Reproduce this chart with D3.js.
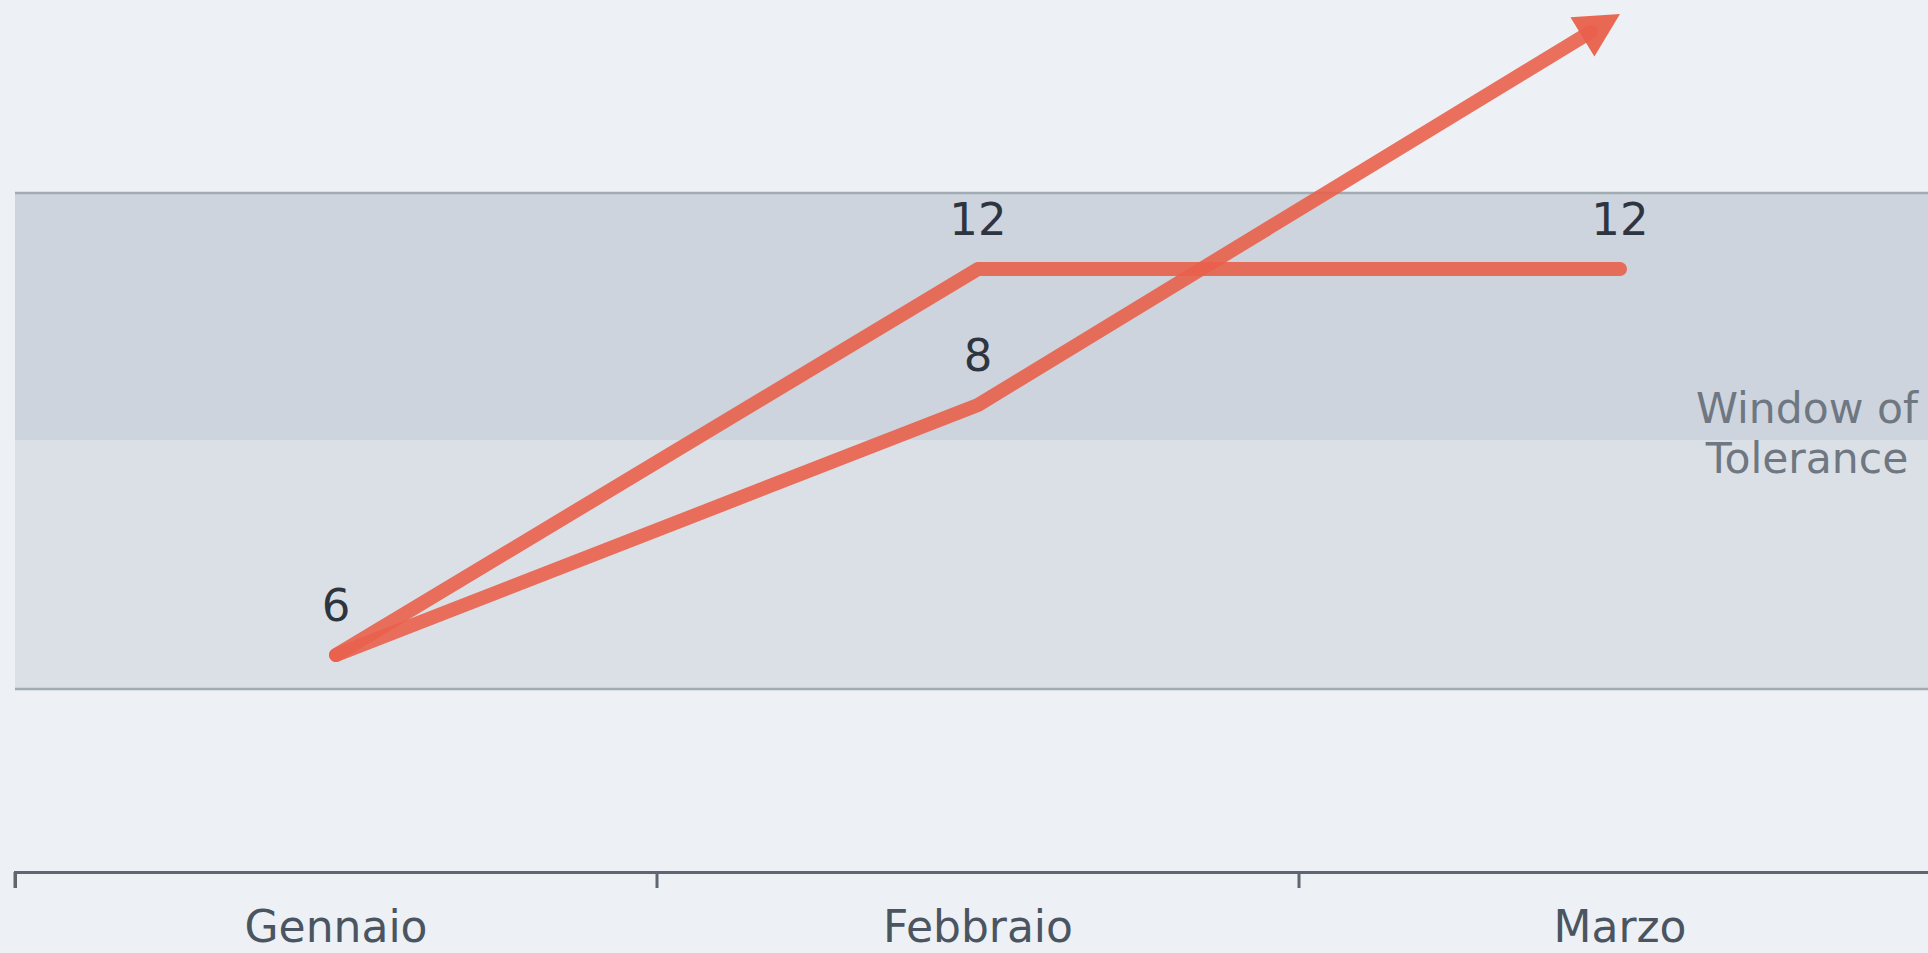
<!DOCTYPE html>
<html>
<head>
<meta charset="utf-8">
<script src="https://cdn.jsdelivr.net/npm/d3@7"></script>
<style>
  body { margin: 0; background: #edf1f5; }
  svg { display: block; }
  text { font-family: "DejaVu Sans", sans-serif; }
</style>
</head>
<body>
<script>
// Data
var months = ["Gennaio", "Febbraio", "Marzo"];
var steadyValues = [6, 12, 12];        // line that levels off
var risingValues = [6, 8, 16];         // line that ends in the arrow (last point off the labelled range)
var steadyLabels = ["6", "12", "12"];
var risingLabels = [null, "8", null];
var bandTitle = ["Window of", "Tolerance"];

// Set up svg
var svgWidth = 1928;
var svgHeight = 953;

var svg = d3.select("body")
  .append("svg")
  .attr("width", svgWidth)
  .attr("height", svgHeight);

var axisY = 872;
var bandTop = 193;
var bandMid = 440;
var bandBottom = 689;
var lineColor = "#e9604b";

// Scales
var xScale = d3.scaleBand()
  .domain(months)
  .range([15, 15 + 3 * 642]);

var xMid = function(d) { return xScale(d) + xScale.bandwidth() / 2; };

// the picture is not drawn to a linear value scale, so the y scale is piecewise
var yScale = d3.scaleLinear()
  .domain([6, 8, 12, 16])
  .range([655, 405, 269, 14]);

// Window of tolerance band
svg.append("rect")
  .attr("x", 15).attr("y", bandTop)
  .attr("width", svgWidth).attr("height", bandMid - bandTop)
  .attr("fill", "#cdd4dd");

svg.append("rect")
  .attr("x", 15).attr("y", bandMid)
  .attr("width", svgWidth).attr("height", bandBottom - bandMid)
  .attr("fill", "#dbe0e7");

[bandTop, bandBottom].forEach(function(y) {
  svg.append("line")
    .attr("x1", 15).attr("x2", svgWidth)
    .attr("y1", y).attr("y2", y)
    .attr("stroke", "#a2aab4")
    .attr("stroke-width", 2.5);
});

svg.append("text")
  .attr("x", 1807)
  .attr("y", 423)
  .attr("text-anchor", "middle")
  .style("font-size", "42.5px")
  .attr("fill", "#6e7782")
  .selectAll("tspan")
  .data(bandTitle)
  .enter()
  .append("tspan")
    .attr("x", 1807)
    .attr("dy", function(d, i) { return i === 0 ? 0 : 50; })
    .text(function(d) { return d; });

// X axis
var bottomAxis = d3.axisBottom(xScale)
  .tickSizeInner(0)
  .tickSizeOuter(16)
  .tickPadding(0);

var axisG = svg.append("g")
  .attr("transform", "translate(0," + axisY + ")")
  .call(bottomAxis);

axisG.select(".domain")
  .attr("stroke", "#5d6671")
  .attr("stroke-width", 3);

axisG.selectAll(".tick text")
  .attr("y", 70)
  .attr("dy", 0)
  .style("font-size", "44px")
  .style("font-family", "'DejaVu Sans', sans-serif")
  .attr("fill", "#4b5561");

// tick marks sit on the band boundaries
svg.selectAll(".bound-tick")
  .data(months)
  .enter()
  .append("line")
  .attr("class", "bound-tick")
  .attr("x1", function(d) { return xScale(d); })
  .attr("x2", function(d) { return xScale(d); })
  .attr("y1", axisY)
  .attr("y2", axisY + 16)
  .attr("stroke", "#5d6671")
  .attr("stroke-width", 3);

// Lines
var line = d3.line()
  .x(function(d) { return xMid(d.month); })
  .y(function(d) { return yScale(d.value); });

var steadyData = months.map(function(m, i) { return { month: m, value: steadyValues[i] }; });
var risingData = months.map(function(m, i) { return { month: m, value: risingValues[i] }; });

svg.append("path")
  .datum(steadyData)
  .attr("d", line)
  .attr("fill", "none")
  .attr("stroke", lineColor)
  .attr("stroke-opacity", 0.9)
  .attr("stroke-width", 14)
  .attr("stroke-linecap", "round")
  .attr("stroke-linejoin", "round");

// rising line: stop the stroke short of the tip, then add the arrow head
var pts = risingData.map(function(d) { return [xMid(d.month), yScale(d.value)]; });
var tip = pts[pts.length - 1];
var prev = pts[pts.length - 2];
var ang = Math.atan2(tip[1] - prev[1], tip[0] - prev[0]);
var headLen = 44;
var headHalf = 23;
var shaftEnd = [tip[0] - Math.cos(ang) * (headLen - 10), tip[1] - Math.sin(ang) * (headLen - 10)];

svg.append("path")
  .attr("d", d3.line()(pts.slice(0, -1).concat([shaftEnd])))
  .attr("fill", "none")
  .attr("stroke", lineColor)
  .attr("stroke-opacity", 0.9)
  .attr("stroke-width", 14)
  .attr("stroke-linecap", "round")
  .attr("stroke-linejoin", "round");

var bx = tip[0] - Math.cos(ang) * headLen;
var by = tip[1] - Math.sin(ang) * headLen;
svg.append("path")
  .attr("d", "M" + tip[0] + "," + tip[1] +
    "L" + (bx + Math.sin(ang) * headHalf) + "," + (by - Math.cos(ang) * headHalf) +
    "L" + (bx - Math.sin(ang) * headHalf) + "," + (by + Math.cos(ang) * headHalf) + "Z")
  .attr("fill", lineColor)
  .attr("fill-opacity", 0.95);

// Value labels
var labelData = steadyData.map(function(d, i) { return { month: d.month, value: d.value, label: steadyLabels[i] }; })
  .concat(risingData.map(function(d, i) { return { month: d.month, value: d.value, label: risingLabels[i] }; }))
  .filter(function(d) { return d.label; });

svg.selectAll(".value-label")
  .data(labelData)
  .enter()
  .append("text")
  .attr("class", "value-label")
  .attr("x", function(d) { return xMid(d.month); })
  .attr("y", function(d) { return yScale(d.value) - 34; })
  .attr("text-anchor", "middle")
  .style("font-size", "45px")
  .attr("fill", "#2d3540")
  .text(function(d) { return d.label; });
</script>
</body>
</html>
